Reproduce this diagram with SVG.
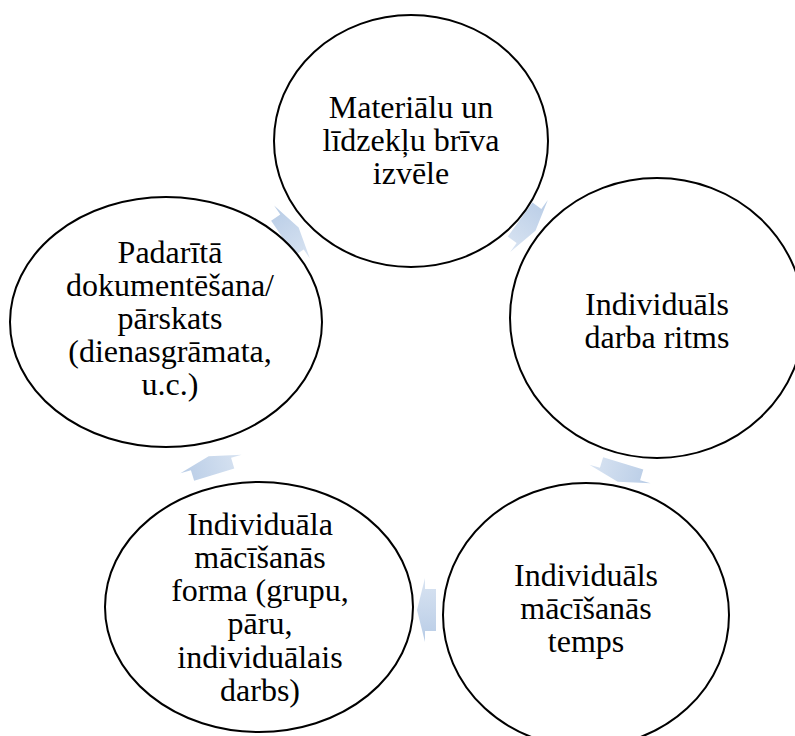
<svg xmlns="http://www.w3.org/2000/svg" xmlns:xlink="http://www.w3.org/1999/xlink" width="795" height="736" viewBox="0 0 795 736">
<style>
.node{fill:#ffffff;stroke:#000000;stroke-width:2}
.lbl{font-family:"Liberation Serif","Times New Roman",serif;font-size:32px;fill:#000000;text-anchor:middle}
</style>
<defs>
<linearGradient id="ag" x1="0" y1="0" x2="0" y2="1">
<stop offset="0" stop-color="#b8cce6"/>
<stop offset="1" stop-color="#d9e4f2"/>
</linearGradient>
<polygon id="arrow" points="-11,-21 0,-21 0,-32 8,0 0,32 0,21 -11,21" fill="url(#ag)"/>
</defs>
<rect width="795" height="736" fill="#ffffff"/>
<g id="connectors">
<use xlink:href="#arrow" transform="translate(529,226) rotate(36)"/>
<use xlink:href="#arrow" transform="translate(620,474) rotate(107)"/>
<use xlink:href="#arrow" transform="translate(425,610) rotate(180)"/>
<use xlink:href="#arrow" transform="translate(211,464) rotate(-107)"/>
<use xlink:href="#arrow" transform="translate(292,232) rotate(-34)"/>
</g>
<g id="node-materialu">
<ellipse class="node" cx="411" cy="141" rx="137" ry="126"/>
<text class="lbl" x="411" y="118">Materiālu un</text>
<text class="lbl" x="411" y="151">līdzekļu brīva</text>
<text class="lbl" x="411" y="184">izvēle</text>
</g>
<g id="node-ritms">
<ellipse class="node" cx="657" cy="318" rx="147" ry="140"/>
<text class="lbl" x="657" y="315">Individuāls</text>
<text class="lbl" x="657" y="348">darba ritms</text>
</g>
<g id="node-temps">
<ellipse class="node" cx="586" cy="615" rx="143" ry="132"/>
<text class="lbl" x="586" y="586">Individuāls</text>
<text class="lbl" x="586" y="619">mācīšanās</text>
<text class="lbl" x="586" y="652">temps</text>
</g>
<g id="node-forma">
<ellipse class="node" cx="259" cy="607" rx="154" ry="125"/>
<text class="lbl" x="260" y="535">Individuāla</text>
<text class="lbl" x="260" y="568">mācīšanās</text>
<text class="lbl" x="260" y="601">forma (grupu,</text>
<text class="lbl" x="260" y="634">pāru,</text>
<text class="lbl" x="260" y="668">individuālais</text>
<text class="lbl" x="260" y="701">darbs)</text>
</g>
<g id="node-dokumentesana">
<ellipse class="node" cx="166" cy="322" rx="156" ry="125"/>
<text class="lbl" x="170" y="263">Padarītā</text>
<text class="lbl" x="170" y="296">dokumentēšana/</text>
<text class="lbl" x="170" y="329">pārskats</text>
<text class="lbl" x="170" y="362">(dienasgrāmata,</text>
<text class="lbl" x="170" y="395">u.c.)</text>
</g>
</svg>
